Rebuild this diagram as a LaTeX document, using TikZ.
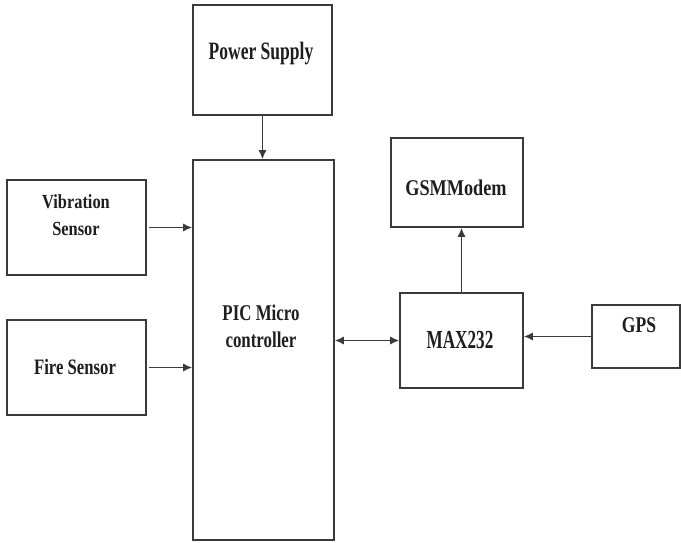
\documentclass[tikz,border=0pt]{standalone}
\usepackage{fontspec}
\setmainfont{Liberation Serif}
\usetikzlibrary{arrows.meta}
\definecolor{ln}{HTML}{3A3A3A}
\definecolor{tx}{HTML}{1E1E1E}
\newcommand\Tx[3]{{\fontsize{#1}{#1}\selectfont\bfseries\scalebox{#2}[1]{#3}}}
\tikzset{
  blk/.style={draw=ln, line width=1.6pt, rectangle, inner sep=0pt, fill=white},
  lbl/.style={anchor=base, inner sep=0pt, text=tx},
  con/.style={draw=ln, line width=1.4pt, -{Latex[length=9pt,width=8pt]}},
  con2/.style={draw=ln, line width=1.4pt, {Latex[length=9pt,width=8pt]}-{Latex[length=9pt,width=8pt]}}
}
\begin{document}
\begin{tikzpicture}[x=1pt,y=-1pt]
\useasboundingbox (0,0) rectangle (681,543);
% boxes
\node[blk, minimum width=139pt, minimum height=110pt] (ps) at (262.5,60) {};
\node[blk, minimum width=141pt, minimum height=380pt] (pic) at (263.5,350) {};
\node[blk, minimum width=139pt, minimum height=95pt] (vib) at (76.5,227.5) {};
\node[blk, minimum width=139pt, minimum height=95pt] (fire) at (76.5,367.5) {};
\node[blk, minimum width=132pt, minimum height=89pt] (gsm) at (457,182.5) {};
\node[blk, minimum width=123pt, minimum height=95pt] (max) at (461.5,340.5) {};
\node[blk, minimum width=88pt, minimum height=63pt] (gps) at (636,336.5) {};
% labels
\node[lbl] (pst) at (261,60) {\Tx{25}{0.70}{Power Supply}};
\node[lbl] (vibt1) at (76,208) {\Tx{20}{0.82}{Vibration}};
\node[lbl] (vibt2) at (76,235) {\Tx{20}{0.82}{Sensor}};
\node[lbl] (firet) at (75,374) {\Tx{22}{0.76}{Fire Sensor}};
\node[lbl] (pict1) at (261,320) {\Tx{22.5}{0.75}{PIC Micro}};
\node[lbl] (pict2) at (261,347) {\Tx{22.5}{0.75}{controller}};
\node[lbl] (gsmt) at (456,195) {\Tx{22.5}{0.81}{GSMModem}};
\node[lbl] (maxt) at (460,348) {\Tx{26}{0.66}{MAX232}};
\node[lbl] (gpst) at (639,332) {\Tx{22.5}{0.78}{GPS}};
% connectors
\draw[con] (ps.south) -- (ps.south |- pic.north);
\draw[con] ([xshift=2pt]vib.east) -- (vib.east -| pic.west);
\draw[con] ([xshift=2pt]fire.east) -- (fire.east -| pic.west);
\draw[con] (max.north) -- (max.north |- gsm.south);
\draw[con2] (pic.east |- max.west) -- (max.west);
\draw[con] (gps.west) -- (gps.west -| max.east);
\end{tikzpicture}
\end{document}
